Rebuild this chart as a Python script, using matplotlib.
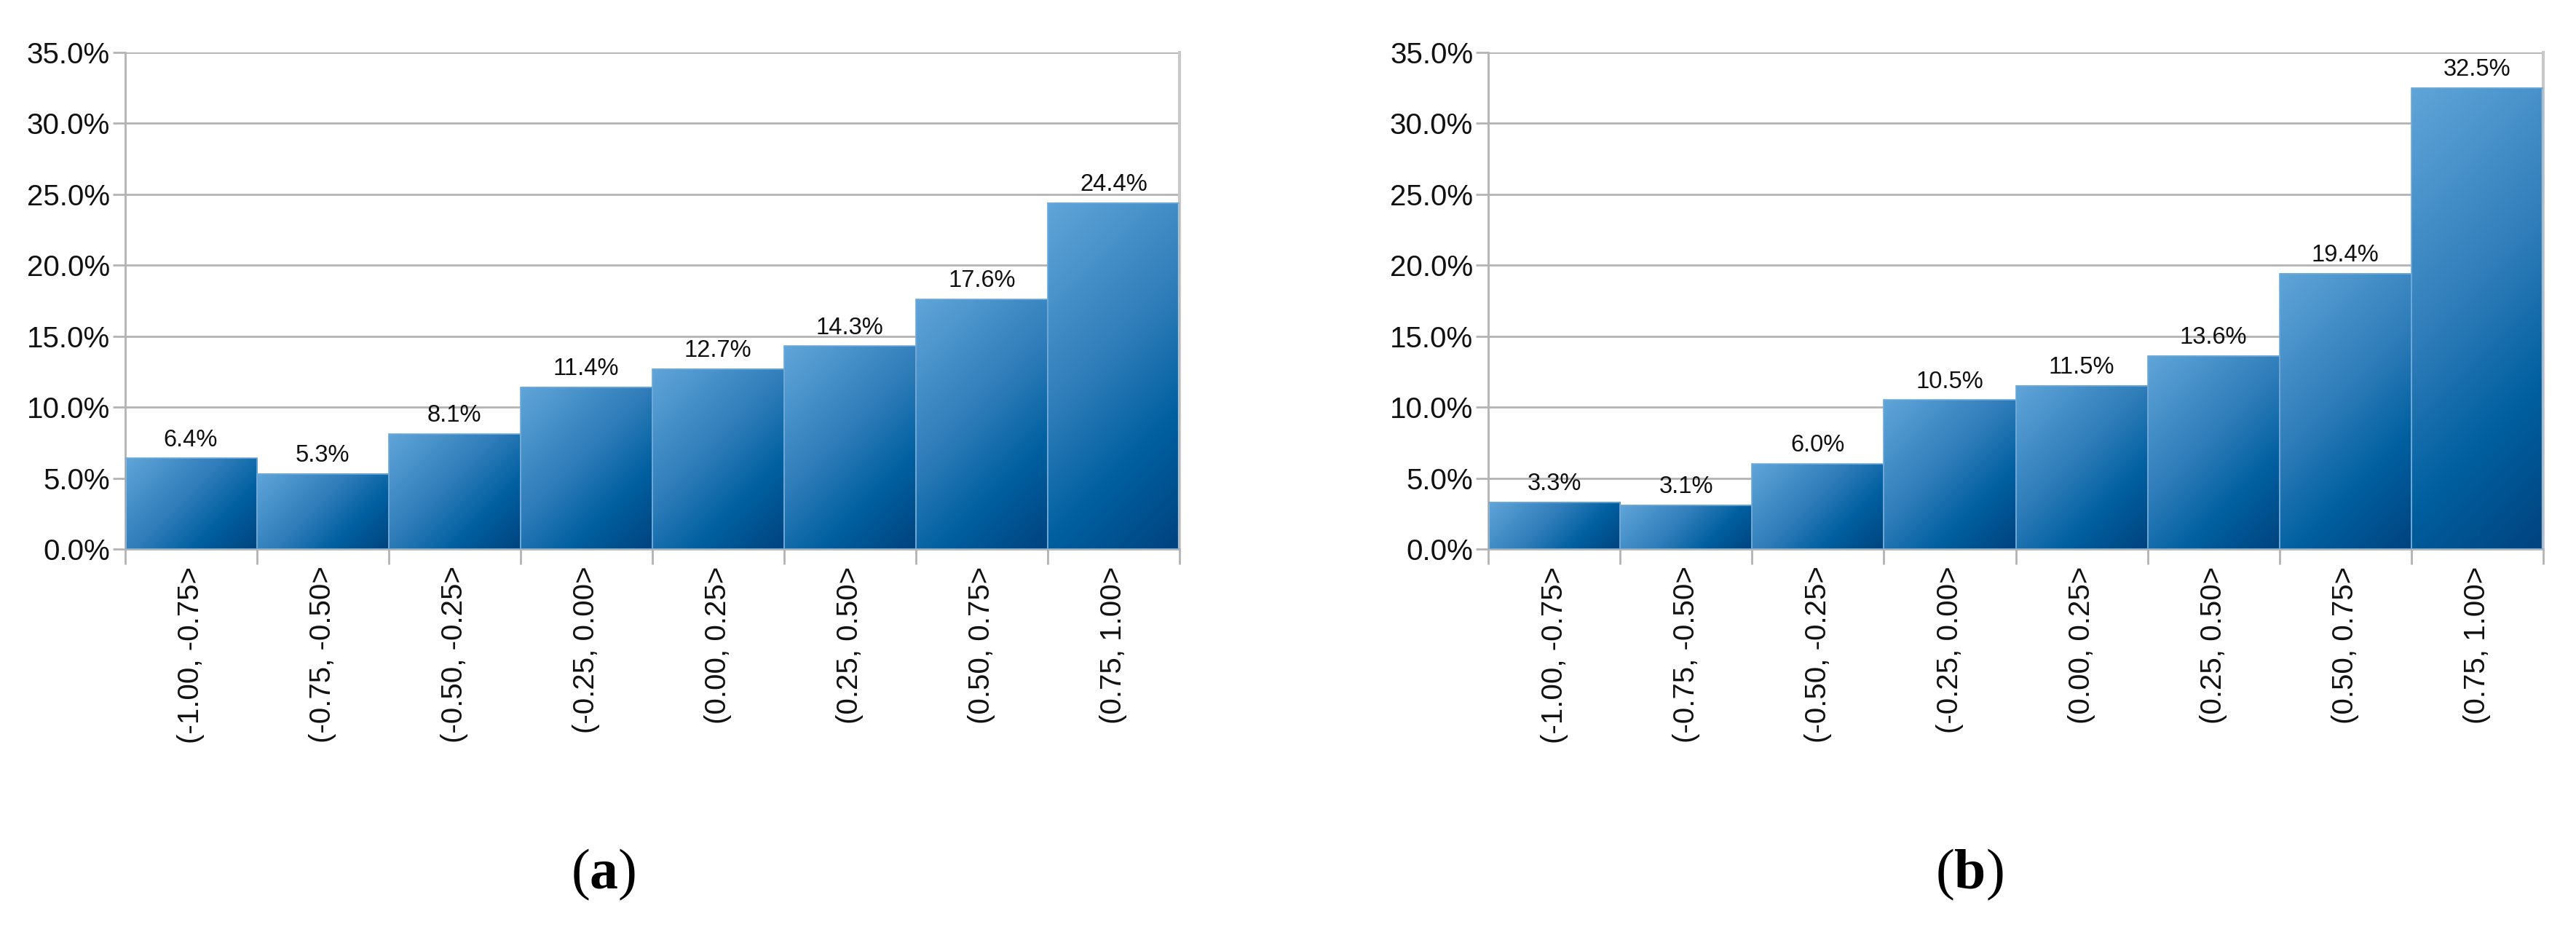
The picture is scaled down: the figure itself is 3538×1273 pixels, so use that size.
import numpy as np
import matplotlib
matplotlib.use("Agg")
import matplotlib.pyplot as plt
from matplotlib.colors import LinearSegmentedColormap
from matplotlib.ticker import FuncFormatter

categories = ["(-1.00, -0.75>", "(-0.75, -0.50>", "(-0.50, -0.25>", "(-0.25, 0.00>",
              "(0.00, 0.25>", "(0.25, 0.50>", "(0.50, 0.75>", "(0.75, 1.00>"]
values_a = [6.4, 5.3, 8.1, 11.4, 12.7, 14.3, 17.6, 24.4]
values_b = [3.3, 3.1, 6.0, 10.5, 11.5, 13.6, 19.4, 32.5]
yticks = [0, 5, 10, 15, 20, 25, 30, 35]
panel_labels = ["a", "b"]

plt.rcParams['mathtext.fontset'] = 'custom'
plt.rcParams['mathtext.rm'] = 'Liberation Serif'
plt.rcParams['mathtext.bf'] = 'Liberation Serif:bold'

W, H = 3538, 1273
fig = plt.figure(figsize=(W / 100, H / 100), dpi=100)
fig.patch.set_facecolor("white")

cmap = LinearSegmentedColormap.from_list(
    "lo", [(0.0, "#60a5d9"), (0.45, "#2e7cb9"), (0.72, "#005f9f"), (1.0, "#00437f")])

grid_col = "#b3b3b3"
sans = "Liberation Sans"

def draw(ax, vals):
    n = len(vals)
    ax.set_xlim(-0.5, n - 0.5)
    ax.set_ylim(0, 35)
    ax.set_axisbelow(True)
    ax.yaxis.grid(True, color=grid_col, linewidth=2.0)
    ax.spines["top"].set_visible(False)
    for s in ["left", "bottom", "right"]:
        ax.spines[s].set_color(grid_col)
        ax.spines[s].set_linewidth(2.0)
    ax.spines["right"].set_linewidth(3.0)
    ax.spines["right"].set_color("#c8c8c8")

    fig.canvas.draw()
    for i, v in enumerate(vals):
        x0, x1 = i - 0.5, i + 0.5
        p0 = ax.transData.transform((x0, v))
        p1 = ax.transData.transform((x1, 0))
        wp = abs(p1[0] - p0[0])
        hp = abs(p0[1] - p1[1])
        nx, ny = 200, 300
        xx = np.linspace(0, 1, nx)[None, :] * wp
        yy = np.linspace(0, 1, ny)[:, None] * hp
        t = (xx + yy) / (wp + hp)
        ax.imshow(t, cmap=cmap, vmin=0, vmax=1, extent=(x0, x1, 0, v),
                  origin="upper", aspect="auto", interpolation="bilinear", zorder=2)
        ax.bar(i, v, width=1.0, color="none", edgecolor="#6fa9d8",
               linewidth=1.2, zorder=3)
        ax.annotate(f"{v:.1f}%", (i, v), xytext=(0, 12), textcoords="offset points",
                    ha="center", va="baseline", fontsize=23.5, family=sans,
                    color="#111111", zorder=4)
    ax.set_xlim(-0.5, n - 0.5)
    ax.set_ylim(0, 35)
    ax.set_yticks(yticks)
    ax.yaxis.set_major_formatter(FuncFormatter(lambda y, _: f"{y:.1f}%"))
    ax.tick_params(axis="y", length=12, width=2, color=grid_col, pad=3,
                   labelsize=29, labelcolor="#111111")
    for lab in ax.get_yticklabels():
        lab.set_family(sans)
    ax.set_xticks(np.arange(-0.5, n, 1.0))
    ax.set_xticklabels([])
    ax.tick_params(axis="x", which="major", length=15, width=2, color=grid_col)
    ax.set_xticks(np.arange(n), minor=True)
    ax.set_xticklabels(categories, minor=True, rotation=90, fontsize=29,
                       family=sans, color="#111111", va="top", ha="center")
    ax.tick_params(axis="x", which="minor", length=0, pad=17)

ax_l = fig.add_axes([171.5 / W, 1 - 754 / H, (1620 - 171.5) / W, (754 - 72) / H])
ax_r = fig.add_axes([2044 / W, 1 - 754 / H, (3493 - 2044) / W, (754 - 72) / H])
draw(ax_l, values_a)
draw(ax_r, values_b)

for xc, lab in zip([829, 2705], panel_labels):
    fig.text(xc / W, 1 - 1201 / H, "($\\mathbf{" + lab + "}$)", ha="center", va="center",
             fontsize=56, family="Liberation Serif", color="black")

fig.savefig("out.png", dpi=100, facecolor="white")
